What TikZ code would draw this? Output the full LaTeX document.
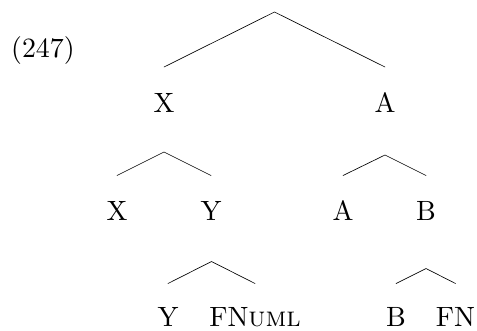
\documentclass[tikz,border=0pt]{standalone}
\usepackage{fontspec}
% text-size cut of Latin Modern, used at display size for sturdier strokes
\setmainfont{lmroman10-regular}[Extension=.otf,SmallCapsFont=lmromancaps10-regular]
\begin{document}
\begin{tikzpicture}[x=1bp,y=-1bp,
  lbl/.style={anchor=base,inner sep=0pt,text depth=0pt,font=\fontsize{28}{34}\selectfont},
  branch/.style={line width=0.65pt,line cap=round,line join=miter}]
\useasboundingbox (0,0) rectangle (477,330);

% example number
\node[lbl,anchor=base west] (num) at (11,57) {(247)};

% level 1
\coordinate (r) at (274.5,12);
\node[lbl] (x1) at (164,112) {X};
\node[lbl] (a1) at (385,112) {A};
\coordinate (x1e) at (164,67);
\coordinate (a1e) at (385,67);
\draw[branch] (x1e) -- (r) -- (a1e);

% level 2, left
\coordinate (x1a) at (164,152);
\node[lbl] (x2) at (117,220) {X};
\node[lbl] (y2) at (211,220) {Y};
\coordinate (x2e) at (117,175.5);
\coordinate (y2e) at (211,175.5);
\draw[branch] (x2e) -- (x1a) -- (y2e);

% level 2, right
\coordinate (a1a) at (385,155);
\node[lbl] (a2) at (343,220) {A};
\node[lbl] (b2) at (426,220) {B};
\coordinate (a2e) at (343,175.5);
\coordinate (b2e) at (426,175.5);
\draw[branch] (a2e) -- (a1a) -- (b2e);

% level 3, under Y
\coordinate (y2a) at (211.5,261.5);
\node[lbl] (y3) at (168,326) {Y};
\node[lbl] (f3) at (255,326) {FN\textsc{uml}};
\coordinate (y3e) at (168,283.5);
\coordinate (f3e) at (255,283.5);
\draw[branch] (y3e) -- (y2a) -- (f3e);

% level 3, under B
\coordinate (b2a) at (426,268.5);
\node[lbl] (b3) at (396,326) {B};
\node[lbl] (n3) at (455.5,326) {FN};
\coordinate (b3e) at (396,283.5);
\coordinate (n3e) at (455.5,283.5);
\draw[branch] (b3e) -- (b2a) -- (n3e);
\end{tikzpicture}
\end{document}
